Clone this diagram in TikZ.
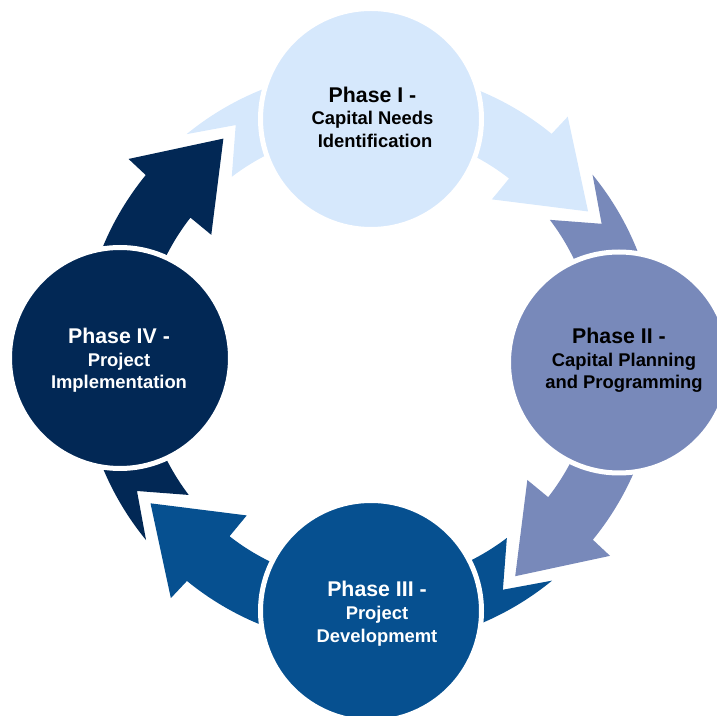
\documentclass[tikz,border=0pt]{standalone}
\usepackage{fontspec}
\setmainfont{Liberation Sans}
\definecolor{phaseone}{RGB}{214,232,252}
\definecolor{phasetwo}{RGB}{120,137,186}
\definecolor{phasethree}{RGB}{6,80,144}
\definecolor{phasefour}{RGB}{2,40,85}
\tikzset{
  phasedisc/.style={circle, inner sep=0pt, minimum size=221pt, draw=white, line width=5pt},
  phaselabel/.style={anchor=north, align=center, inner sep=0pt,
    font=\fontsize{18.4}{22.6}\selectfont\bfseries},
}
\newcommand\titleline[1]{{\fontsize{21.3}{22.6}\selectfont #1}}
\begin{document}
\begin{tikzpicture}[x=1pt,y=1pt]
\useasboundingbox (0,0) rectangle (717,715);
\clip (0,0) rectangle (717,715);

% curved arrows around the cycle, each rotated a quarter turn clockwise
\foreach \k/\col in {0/phaseone,1/phasetwo,2/phasethree,3/phasefour}{
  \begin{scope}[shift={(369.3,357.6)}, rotate=-90*\k]
    \fill[\col] (129.3:288.5) arc[start angle=129.3, end angle=50.8, radius=288.5]
      -- (50.5:312) -- (33.7:263) -- (52.2:200) -- (52.0:227)
      arc[start angle=52.0, end angle=127.3, radius=227]
      -- (119.9:268) -- cycle;
  \end{scope}
}

% phase discs
\node[phasedisc, fill=phaseone]   (p1) at (371,596)   {};
\node[phasedisc, fill=phasetwo]   (p2) at (619,352.5) {};
\node[phasedisc, fill=phasethree] (p3) at (371,104)   {};
\node[phasedisc, fill=phasefour]  (p4) at (120,357)   {};

% phase captions
\node[phaselabel, text=black] (t1) at (372.5,628.4)
  {\titleline{Phase I -}\\Capital Needs\\\hspace*{5pt}Identification};
\node[phaselabel, text=black] (t2) at (624,387.1)
  {\titleline{Phase II -}\hspace*{10pt}\\Capital Planning\\and Programming};
\node[phaselabel, text=white] (t3) at (377,133.7)
  {\titleline{Phase III -}\\Project\\Developmemt};
\node[phaselabel, text=white] (t4) at (119,387.1)
  {\titleline{Phase IV -}\\Project\\Implementation};
\end{tikzpicture}
\end{document}
